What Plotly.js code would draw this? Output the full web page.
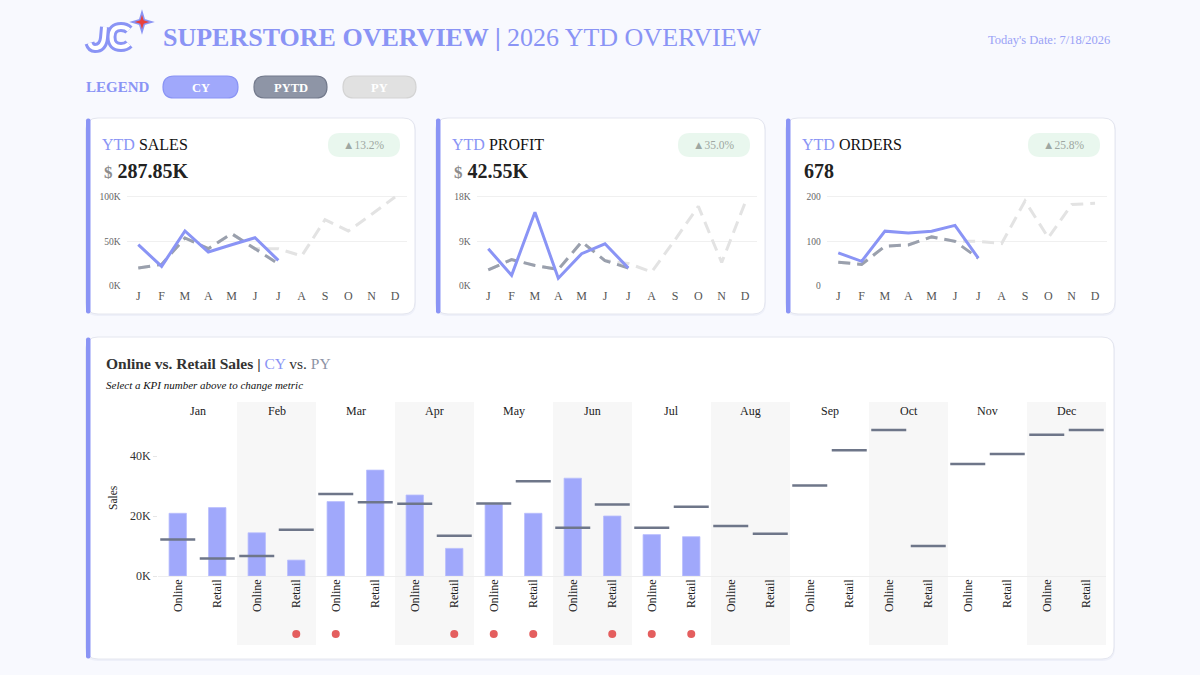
<!DOCTYPE html>
<html>
<head>
<meta charset="utf-8">
<script src="https://cdn.plot.ly/plotly-3.0.1.min.js"></script>
<style>
html,body{margin:0;padding:0;background:#f8f9fe;}
#chart{width:1200px;height:675px;}
</style>
</head>
<body>
<div id="chart"></div>
<script>
// ---------------- DATA ----------------
const months = ['Jan','Feb','Mar','Apr','May','Jun','Jul','Aug','Sep','Oct','Nov','Dec'];
const monthInitials = ['J','F','M','A','M','J','J','A','S','O','N','D'];

const kpiTitles = ['SALES','PROFIT','ORDERS'];
const kpiPrefix = ['$','$',''];
const kpiValues = ['287.85K','42.55K','678'];
const kpiChanges = ['▲13.2%','▲35.0%','▲25.8%'];

const salesCY   = [46200, 21800, 61700, 38000, 46200, 54100, 28600];
const salesPYTD = [19900, 24000, 53800, 41700, 58600, 41700, 24800];
const salesPY   = [19900, 24000, 53800, 41700, 58600, 41700, 41700, 33500, 74400, 61700, 80500, 100000];
const salesTickVals = [0, 50000, 100000];
const salesTickText = ['0K','50K','100K'];

const profitCY   = [7500, 2100, 14900, 1500, 6500, 8500, 3600];
const profitPYTD = [3200, 5300, 4100, 3300, 8900, 5100, 3600];
const profitPY   = [3200, 5300, 4100, 3300, 8900, 5100, 4500, 2800, 9300, 16100, 4700, 16800];
const profitTickVals = [0, 9000, 18000];
const profitTickText = ['0K','9K','18K'];

const ordersCY   = [74, 55, 123, 119, 123, 136, 62];
const ordersPYTD = [53, 48, 89, 92, 110, 100, 62];
const ordersPY   = [53, 48, 89, 92, 110, 100, 100, 95, 191, 108, 183, 186];
const ordersTickVals = [0, 100, 200];
const ordersTickText = ['0','100','200'];

const channels = ['Online','Retail'];
const onlineCY = [20900, 14400, 24800, 27000, 23900, 32600, 13800];
const retailCY = [22800, 5300, 35300, 9200, 20900, 20000, 13100];
const onlinePY = [12200, 6700, 27300, 24100, 24200, 16100, 16100, 16700, 30200, 48700, 37300, 47100];
const retailPY = [5800, 15400, 24600, 13400, 31600, 23800, 23100, 14100, 41900, 10000, 40700, 48700];
const bottomTickVals = [0, 20000, 40000];
const bottomTickText = ['0K','20K','40K'];

// ---------------- STYLE / HELPERS ----------------
const W = 1200, H = 675;
const FONT = 'Liberation Serif, Times New Roman, serif';
const BLUE = '#8a94f5', BAR = '#a0a8fb', PYTDC = '#9aa0ad', PYC = '#e3e3e3', DASHC = '#6e7689';
const fx = x => x / W, fy = y => 1 - y / H;
function pth(s){
  return s.replace(/(-?\d+(?:\.\d+)?),(-?\d+(?:\.\d+)?)/g, (m,a,b)=> (fx(+a)).toFixed(5)+','+(fy(+b)).toFixed(5));
}
function rr(x0,y0,x1,y1,r){
  return pth(`M ${x0+r},${y0} L ${x1-r},${y0} Q ${x1},${y0} ${x1},${y0+r} L ${x1},${y1-r} Q ${x1},${y1} ${x1-r},${y1} L ${x0+r},${y1} Q ${x0},${y1} ${x0},${y1-r} L ${x0},${y0+r} Q ${x0},${y0} ${x0+r},${y0} Z`);
}
const shapes = [];
const annotations = [];
function shp(path, fill, lineColor, lineWidth){
  shapes.push({type:'path', xref:'paper', yref:'paper', path:path, fillcolor:fill,
    line:{color:lineColor||'rgba(0,0,0,0)', width:lineWidth||0}, layer:'below'});
}
function txt(x,y,text,size,color,anchor,extra){
  annotations.push(Object.assign({xref:'paper', yref:'paper', x:fx(x), y:fy(y), text:text,
    showarrow:false, xanchor:anchor||'left', yanchor:'middle',
    font:{family:FONT, size:size, color:color}}, extra||{}));
}

// ---------------- HEADER ----------------
// logo
const jPath = 'M 105,27 L 104,38 Q 103,48 95,48 Q 91,48 89.5,43';
const cPath = 'M 129,30 Q 126,27 121,27 Q 111.5,27 111.5,37 Q 111.5,47 121,47 Q 126,47 129,44';
[jPath, cPath].forEach(p => shapes.push({type:'path', xref:'paper', yref:'paper', path:pth(p), line:{color:BLUE, width:10}, layer:'below'}));
[jPath, cPath].forEach(p => shapes.push({type:'path', xref:'paper', yref:'paper', path:pth(p), line:{color:'#ffffff', width:4}, layer:'below'}));
shp(pth('M 142,12 L 144.3,19.7 L 152,22 L 144.3,24.3 L 142,32 L 139.7,24.3 L 132,22 L 139.7,19.7 Z'), '#e8413c', BLUE, 1.6);

txt(161, 38, '<b>SUPERSTORE OVERVIEW | </b>2026 YTD OVERVIEW', 26, BLUE, 'left');
txt(1112, 40, "Today's Date: 7/18/2026", 12.5, '#9aa2f6', 'right');

txt(84, 87, '<b>LEGEND</b>', 15, BLUE, 'left');
const pills = [
  {x0:163, x1:238, fill:BAR, line:BLUE, label:'CY'},
  {x0:254, x1:327, fill:'#8e95a6', line:'#737a8c', label:'PYTD'},
  {x0:343, x1:416, fill:'#e1e1e1', line:'#d4d4d4', label:'PY'}
];
pills.forEach(p => {
  shp(rr(p.x0, 76, p.x1, 98, 11), p.fill, p.line, 1.2);
  txt((p.x0+p.x1)/2, 87.5, '<b>'+p.label+'</b>', 12.5, '#ffffff', 'center');
});

// ---------------- CARDS ----------------
function card(x0,y0,x1,y1){
  shp(rr(x0-1,y0,x1+1,y1+2,13), 'rgba(120,130,190,0.07)');
  shp(rr(x0,y0,x1,y1,12), '#ffffff', '#e4e6ef', 1);
  shp(rr(x0,y0+0.5,x0+4.5,y1-0.5,2), BLUE);
}
for(let c=0;c<3;c++){
  const o = 350*c;
  card(86+o, 118, 415+o, 314);
  txt(100+o, 145, `<span style="color:${BLUE}">YTD</span> ${kpiTitles[c]}`, 16, '#111111', 'left');
  const pre = kpiPrefix[c] ? `<span style="color:#8c8c8c;font-size:17px">${kpiPrefix[c]}</span> ` : '';
  txt(102+o, 171, `<b>${pre}${kpiValues[c]}</b>`, 20, '#222222', 'left');
  shp(rr(328+o, 133, 400+o, 157, 12), '#e9f7ee');
  txt(364+o, 145.5, kpiChanges[c], 11.5, '#9ea7a2', 'center');
}
card(86, 337, 1114, 659);
txt(104, 364, `<b>Online vs. Retail Sales |</b> <span style="color:${BLUE}">CY</span> vs. <span style="color:#8d93a5">PY</span>`, 15.5, '#333333', 'left');
txt(104, 385, '<i>Select a KPI number above to change metric</i>', 11, '#111111', 'left');

// ---------------- MINI CHARTS ----------------
const traces = [];
const layout = {};
const minis = [
  {cy:salesCY, pytd:salesPYTD, py:salesPY, tv:salesTickVals, tt:salesTickText},
  {cy:profitCY, pytd:profitPYTD, py:profitPY, tv:profitTickVals, tt:profitTickText},
  {cy:ordersCY, pytd:ordersPYTD, py:ordersPY, tv:ordersTickVals, tt:ordersTickText}
];
const yTopPx = 197, yZeroPx = 285.7;
minis.forEach((m, c) => {
  const sfx = c === 0 ? '' : String(c+1);
  const xa = 'x'+sfx, ya = 'y'+sfx;
  const T = m.tv[m.tv.length-1];
  const span = yZeroPx - yTopPx;
  const lo = -0.02*T, hi = 1.06*T;
  const botPx = yZeroPx + 0.02*span, topPx = yTopPx - 0.06*span;
  const o = 350*c;
  layout['xaxis'+sfx] = {domain:[fx(126.6+o), fx(406.7+o)], range:[-0.5, 11.5], anchor:ya,
    tickvals:monthInitials.map((d,i)=>i), ticktext:monthInitials, showgrid:false, zeroline:false,
    showline:false, ticks:'', tickfont:{family:FONT, size:12, color:'#555555'}, fixedrange:true};
  layout['yaxis'+sfx] = {domain:[fy(botPx), fy(topPx)], range:[lo, hi], anchor:xa,
    tickvals:m.tv, ticktext:m.tt, showgrid:true, gridcolor:'#f0f0f0', gridwidth:1,
    zeroline:true, zerolinecolor:'rgba(0,0,0,0)', showline:false, ticks:'outside', ticklen:3,
    tickcolor:'rgba(0,0,0,0)', tickfont:{family:FONT, size:9.5, color:'#666666'}, fixedrange:true};
  traces.push({type:'scatter', mode:'lines', x:m.py.map((v,i)=>i), y:m.py, xaxis:xa, yaxis:ya,
    line:{color:PYC, width:3, dash:'12px,7px'}, hoverinfo:'skip'});
  traces.push({type:'scatter', mode:'lines', x:m.pytd.map((v,i)=>i), y:m.pytd, xaxis:xa, yaxis:ya,
    line:{color:PYTDC, width:3, dash:'12px,7px'}, hoverinfo:'skip'});
  traces.push({type:'scatter', mode:'lines', x:m.cy.map((v,i)=>i), y:m.cy, xaxis:xa, yaxis:ya,
    line:{color:BLUE, width:3}, hoverinfo:'skip'});
});

// ---------------- BOTTOM CHART ----------------
const ONL = 0.25, RET = 0.75;
months.forEach((m,i) => {
  if(i % 2 === 1){
    shapes.push({type:'rect', xref:'x4', yref:'paper', x0:i, x1:i+1, y0:fy(645), y1:fy(402),
      fillcolor:'#f7f7f7', line:{width:0}, layer:'below'});
  }
});
layout.xaxis4 = {domain:[fx(158), fx(1106)], range:[0,12], anchor:'y4',
  tickvals:[].concat(...months.map((m,i)=>[i+ONL, i+RET])),
  ticktext:[].concat(...months.map(()=>channels)),
  tickangle:-90, showgrid:false, zeroline:false, showline:false, ticks:'',
  tickfont:{family:FONT, size:12, color:'#222222'}, fixedrange:true};
layout.yaxis4 = {domain:[fy(576), fy(420)], range:[0,52000], anchor:'x4',
  tickvals:bottomTickVals, ticktext:bottomTickText, showgrid:false,
  zeroline:true, zerolinecolor:'#eeeeee', zerolinewidth:1, showline:false,
  ticks:'outside', ticklen:4, tickcolor:'#e6e6e6',
  tickfont:{family:FONT, size:12, color:'#333333'}, fixedrange:true};
layout.yaxis5 = {domain:[fy(641), fy(627)], range:[0,1], anchor:'x4', visible:false, fixedrange:true};

months.forEach((m,i) => txt(158 + 79*i + 39.5, 411, m, 12, '#222222', 'center'));
txt(113, 498, 'Sales', 11.5, '#222222', 'center', {textangle:-90});

traces.push({type:'bar', x:onlineCY.map((v,i)=>i+ONL), y:onlineCY, xaxis:'x4', yaxis:'y4', width:0.22,
  marker:{color:BAR, line:{color:'#b9befc', width:0.8}}, hoverinfo:'skip'});
traces.push({type:'bar', x:retailCY.map((v,i)=>i+RET), y:retailCY, xaxis:'x4', yaxis:'y4', width:0.22,
  marker:{color:BAR, line:{color:'#b9befc', width:0.8}}, hoverinfo:'skip'});
traces.push({type:'scatter', mode:'markers', x:onlinePY.map((v,i)=>i+ONL), y:onlinePY, xaxis:'x4', yaxis:'y4',
  marker:{symbol:'line-ew', size:25, line:{color:DASHC, width:2.5}}, hoverinfo:'skip', cliponaxis:false});
traces.push({type:'scatter', mode:'markers', x:retailPY.map((v,i)=>i+RET), y:retailPY, xaxis:'x4', yaxis:'y4',
  marker:{symbol:'line-ew', size:25, line:{color:DASHC, width:2.5}}, hoverinfo:'skip', cliponaxis:false});

// alert dots where CY is below PY
const dotX = [];
onlineCY.forEach((v,i)=>{ if(v < onlinePY[i]) dotX.push(i+ONL); });
retailCY.forEach((v,i)=>{ if(v < retailPY[i]) dotX.push(i+RET); });
traces.push({type:'scatter', mode:'markers', x:dotX, y:dotX.map(()=>0.5), xaxis:'x4', yaxis:'y5',
  marker:{color:'#e45e5e', size:8}, hoverinfo:'skip', cliponaxis:false});

Object.assign(layout, {
  width:W, height:H, margin:{l:0,r:0,t:0,b:0}, showlegend:false,
  paper_bgcolor:'#f8f9fe', plot_bgcolor:'rgba(0,0,0,0)',
  font:{family:FONT}, hovermode:false, bargap:0,
  shapes:shapes, annotations:annotations
});

Plotly.newPlot('chart', traces, layout, {staticPlot:true, displayModeBar:false});
</script>
</body>
</html>
